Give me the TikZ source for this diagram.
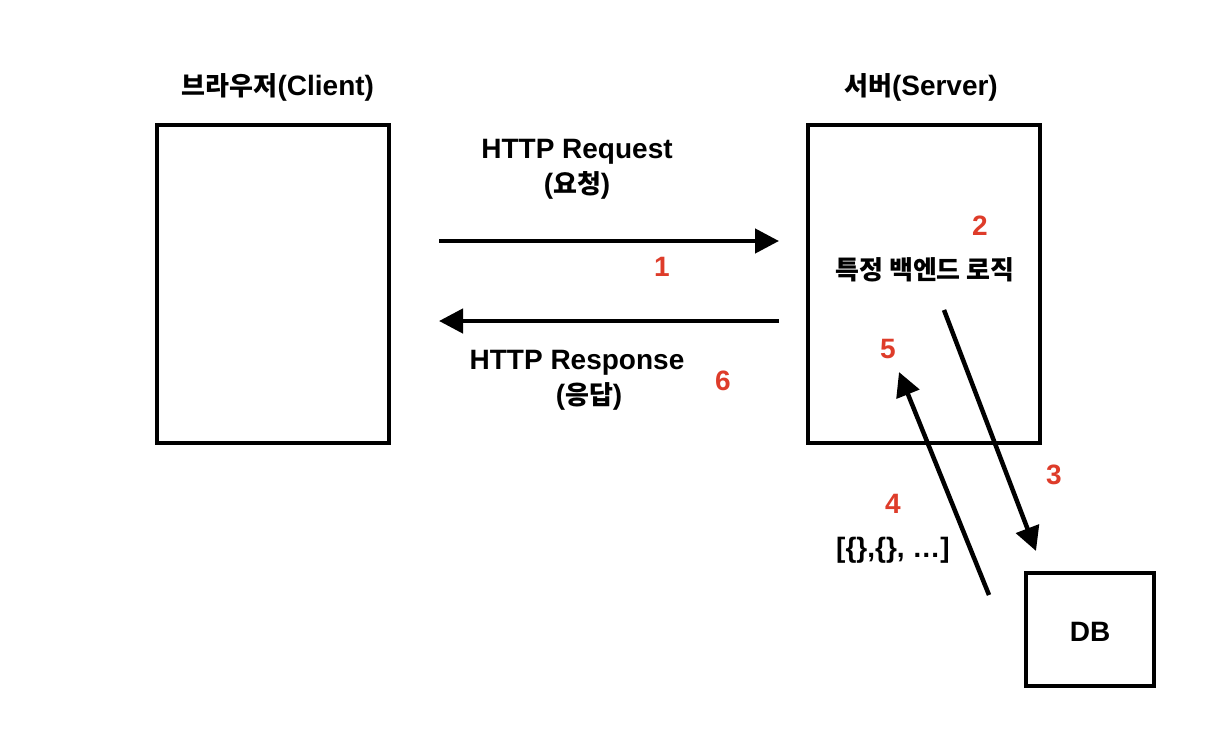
\documentclass[tikz,border=0pt]{standalone}
\usepackage{fontspec}
\setmainfont{Liberation Sans}
\newfontfamily\krfont{Noto Sans CJK KR}
\newcommand{\K}[1]{{\krfont\bfseries\fontsize{26}{30}\selectfont #1}}
\usetikzlibrary{arrows.meta}
\definecolor{numred}{RGB}{222,60,42}
\begin{document}
\begin{tikzpicture}[x=1pt,y=-1pt,
  lbl/.style={font=\bfseries\fontsize{28}{32}\selectfont, inner sep=0pt, text=black},
  num/.style={font=\bfseries\fontsize{28}{32}\selectfont, inner sep=0pt, text=numred},
  boxnode/.style={draw=black, line width=4.5pt, rectangle, inner sep=0pt},
  flow/.style={line width=4.5pt, -{Triangle[length=24pt,width=24pt]}}
]
\useasboundingbox (0,0) rectangle (1224,734);
\fill[white] (0,0) rectangle (1224,734);
% boxes
\node[boxnode, minimum width=232pt, minimum height=318pt] (client) at (273,284) {};
\node[boxnode, minimum width=232pt, minimum height=318pt] (server) at (924,284) {};
\node[boxnode, minimum width=128pt, minimum height=113pt] (db) at (1090,629.5) {};
\node[lbl] (dblabel) at (1090,632) {DB};
% titles
\node[lbl] (ctitle) at (278,87) {\K{브라우저}(Client)};
\node[lbl] (stitle) at (921,87) {\K{서버}(Server)};
% request / response
\coordinate (reqS) at (439,241);
\coordinate (reqE) at (779,241);
\coordinate (resS) at (779,321);
\coordinate (resE) at (439,321);
\draw[flow] (reqS) -- (reqE);
\draw[flow] (resS) -- (resE);
\node[lbl] (reqlbl) at (577,152) {HTTP Request};
\node[lbl] (reqkr) at (577,185) {(\K{요청})};
\node[lbl] (reslbl) at (577,363) {HTTP Response};
\node[lbl] (reskr) at (589,396) {(\K{응답})};
\node[num] (n1) at (662,267) {1};
\node[num] (n6) at (723,381) {6};
% server logic
\node[lbl] (logic) at (925,270) {\K{특정 백엔드 로직}};
\node[num] (n2) at (980,226) {2};
\node[num] (n5) at (888,349) {5};
% db arrows
\coordinate (q3S) at (944,310);
\coordinate (q3E) at (1036,551);
\coordinate (q4S) at (989,595);
\coordinate (q4E) at (899,372);
\draw[flow] (q3S) -- (q3E);
\draw[flow] (q4S) -- (q4E);
\node[num] (n3) at (1054,475) {3};
\node[num] (n4) at (893,504) {4};
\node[lbl] (data) at (893,550) {[\{\},\{\}, …]};
\end{tikzpicture}
\end{document}
